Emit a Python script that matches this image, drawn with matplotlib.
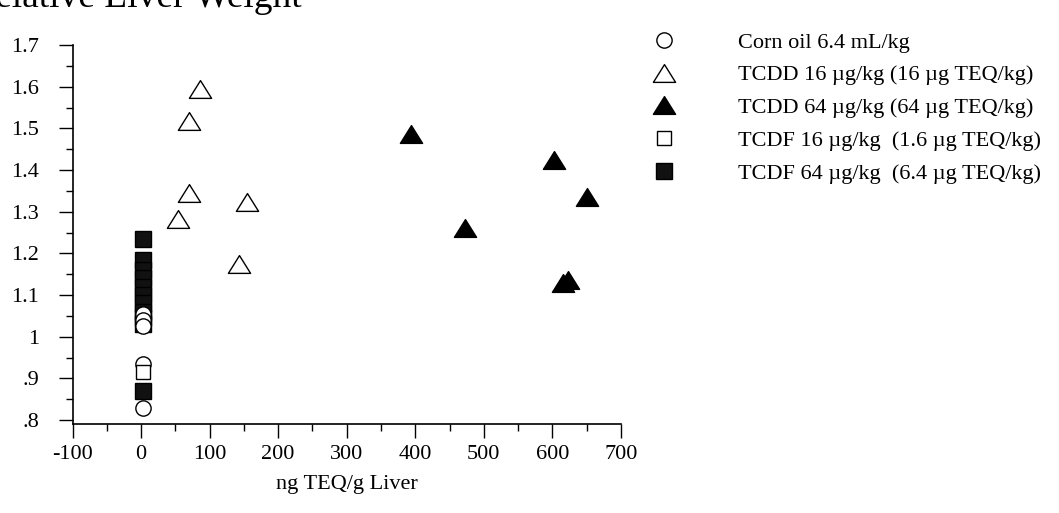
import matplotlib
matplotlib.use('Agg')
import matplotlib.pyplot as plt
from matplotlib.path import Path
from matplotlib.ticker import MultipleLocator, FixedLocator, FuncFormatter

plt.rcParams['font.family'] = ['Liberation Serif', 'DejaVu Serif']
plt.rcParams['font.size'] = 15

# data (x = ng TEQ/g liver, y = relative liver weight)
corn_x = [3, 3, 3, 3, 3]
corn_y = [1.055, 1.04, 1.025, 0.935, 0.83]

tcdd16_x = [86, 70, 70, 155, 54, 143]
tcdd16_y = [1.594, 1.518, 1.344, 1.324, 1.282, 1.175]

tcdd64_x = [394, 603, 650, 473, 615, 622]
tcdd64_y = [1.487, 1.423, 1.336, 1.260, 1.130, 1.135]

tcdf16_x = [3]
tcdf16_y = [0.915]

tcdf64_x = [3, 3, 3, 3, 3, 3, 3, 3, 3, 3, 3]
tcdf64_y = [1.235, 1.185, 1.16, 1.14, 1.12, 1.10, 1.08, 1.06, 1.045, 1.03, 0.87]

y_ticks = [0.8, 0.9, 1.0, 1.1, 1.2, 1.3, 1.4, 1.5, 1.6, 1.7]
y_labels = ['.8', '.9', '1', '1.1', '1.2', '1.3', '1.4', '1.5', '1.6', '1.7']

W, H = 1059, 513
fig = plt.figure(figsize=(W / 100, H / 100), dpi=100)
ax = fig.add_axes([72.5 / W, 1 - 424 / H, (621 - 72.5) / W, (424 - 45) / H])

# flat-ish triangle like the original symbol
tri = Path([(-1, -0.8), (1, -0.8), (0, 0.8), (-1, -0.8)], closed=True)

ax.plot(corn_x, corn_y, 'o', ms=11, mfc='white', mec='black', mew=1.0,
        ls='none', zorder=6, label='Corn oil 6.4 mL/kg')
ax.plot(tcdd16_x, tcdd16_y, marker=tri, ms=16, mfc='white', mec='black', mew=1.0,
        ls='none', zorder=4, label='TCDD 16 \u00b5g/kg (16 \u00b5g TEQ/kg)')
ax.plot(tcdd64_x, tcdd64_y, marker=tri, ms=16, mfc='black', mec='black', mew=1.0,
        ls='none', zorder=4, label='TCDD 64 \u00b5g/kg (64 \u00b5g TEQ/kg)')
ax.plot(tcdf16_x, tcdf16_y, 's', ms=10, mfc='white', mec='black', mew=1.0,
        ls='none', zorder=7, label='TCDF 16 \u00b5g/kg  (1.6 \u00b5g TEQ/kg)')
ax.plot(tcdf64_x, tcdf64_y, 's', ms=12, mfc='#111111', mec='black', mew=1.0,
        ls='none', zorder=5, label='TCDF 64 \u00b5g/kg  (6.4 \u00b5g TEQ/kg)')

ax.set_xlim(-100, 700)
ax.set_ylim(0.7904, 1.7)

ax.xaxis.set_major_locator(MultipleLocator(100))
ax.xaxis.set_minor_locator(MultipleLocator(50))
ax.xaxis.set_major_formatter(FuncFormatter(lambda v, p: '%d' % v))
ax.yaxis.set_major_locator(FixedLocator(y_ticks))
ax.set_yticklabels(y_labels)
ax.yaxis.set_minor_locator(FixedLocator([0.85 + 0.1 * i for i in range(9)]))

ax.tick_params(which='major', direction='out', length=10, width=1.0, labelsize=16)
ax.tick_params(which='minor', direction='out', length=5, width=1.0)
ax.tick_params(axis='y', which='major', pad=14)
ax.tick_params(axis='x', which='major', pad=5)

for s in ['top', 'right']:
    ax.spines[s].set_visible(False)
for s in ['left', 'bottom']:
    ax.spines[s].set_linewidth(1.2)

ax.set_xlabel('ng TEQ/g Liver', fontsize=16, labelpad=8)

fig.text(302 / W, 1 - 7 / H, 'Relative Liver Weight', fontsize=27,
         ha='right', va='baseline')

fig.legend(loc='upper left', bbox_to_anchor=(631 / W, 1 - 21 / H),
           frameon=False, fontsize=16, borderpad=0, handlelength=2.0,
           handletextpad=2.3, labelspacing=0.55, numpoints=1)

fig.savefig('out.png', dpi=100)
